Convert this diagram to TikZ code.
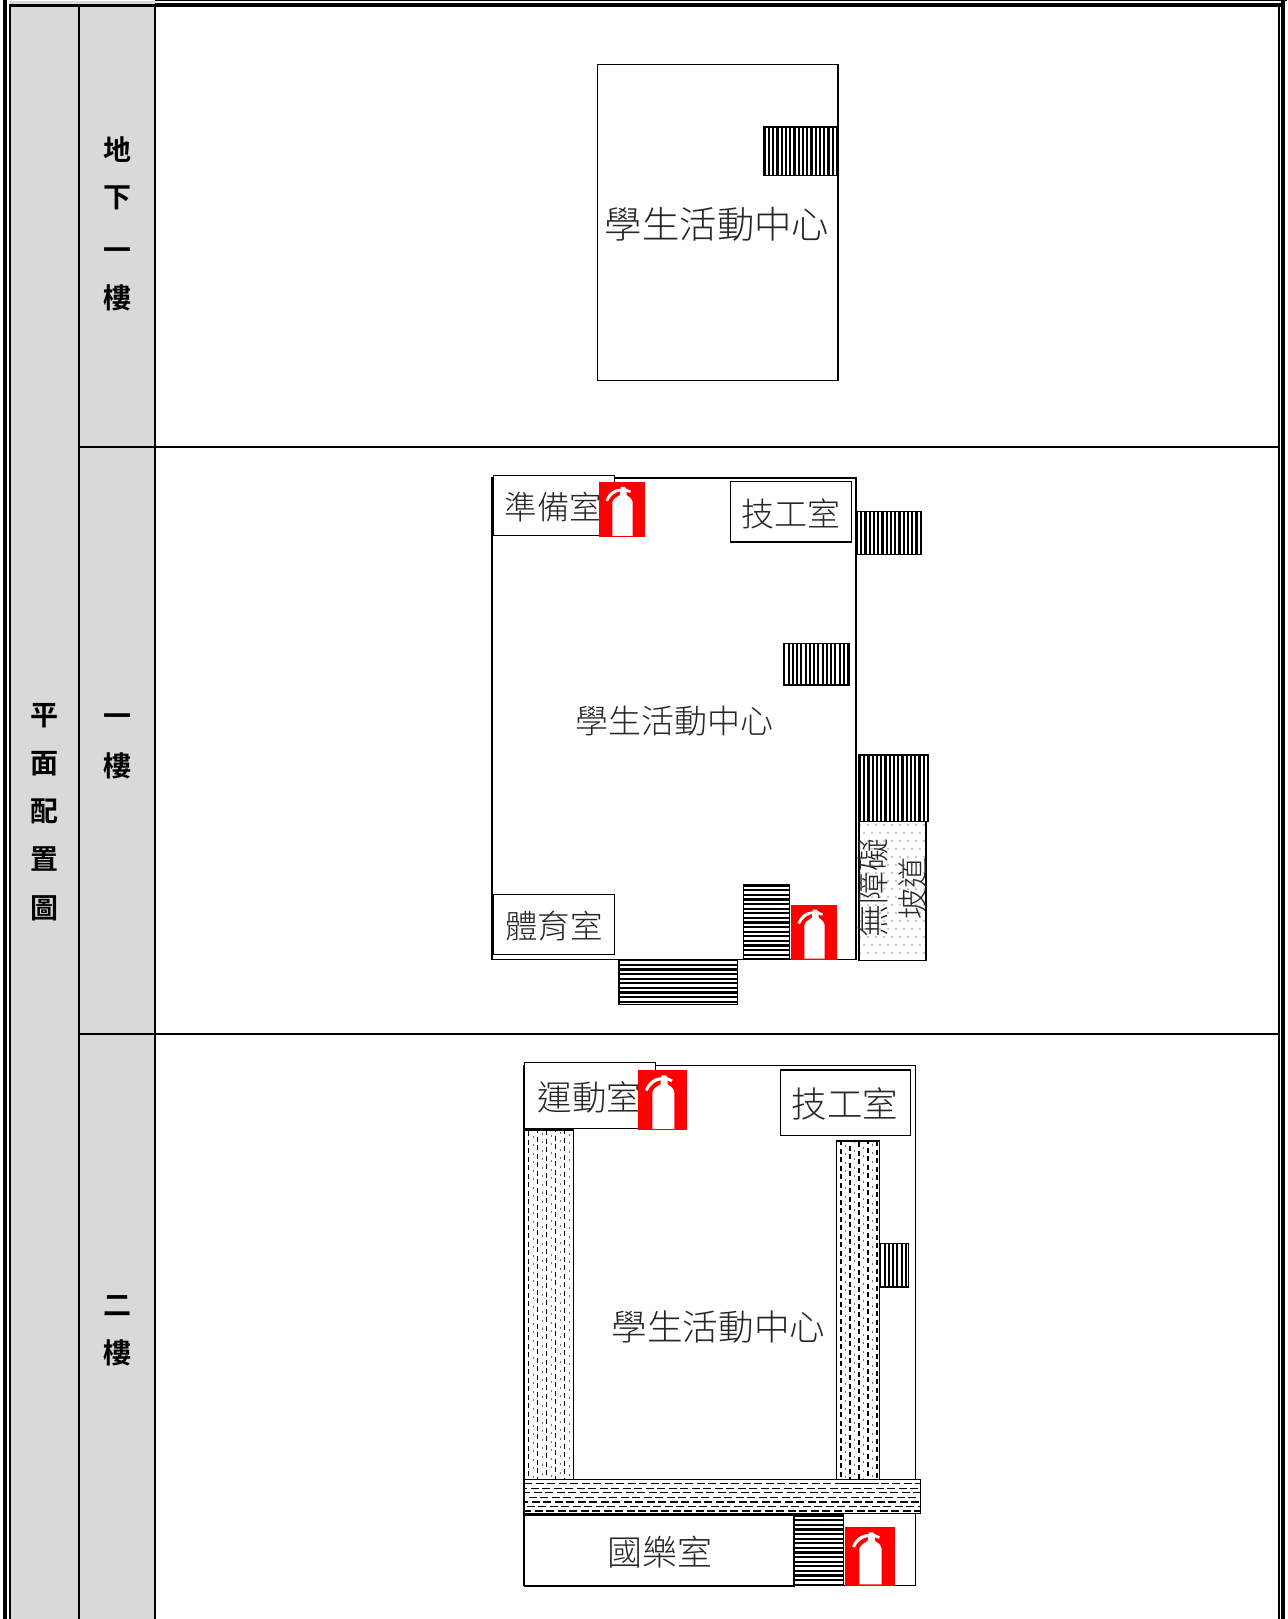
\documentclass[tikz,border=0pt]{standalone}
\usepackage{fontspec}
\newfontfamily\cjk{Noto Sans CJK TC}[UprightFont=* Light]
\newfontfamily\cjkb{Noto Sans CJK TC}[UprightFont=* Bold]
\definecolor{cellgray}{HTML}{D9D9D9}
\definecolor{firered}{HTML}{FF0000}
\tikzset{
  room/.style={draw=black,line width=1.2bp,fill=white},
  wall/.style={draw=black,line width=1.4bp},
  frameline/.style={draw=black,line cap=butt},
  head/.style={inner sep=0pt,font=\cjkb\fontsize{28bp}{28bp}\selectfont},
  lab/.style={inner sep=0pt,text=black!85},
  darkdash/.style={line width=1.1bp,dash pattern=on 5bp off 3.5bp},
  faintdash/.style={line width=0.9bp,black!55,dash pattern=on 2bp off 6.5bp},
}
\newcommand\lbl[5]{\node[lab,font=\cjk\fontsize{#4bp}{#4bp}\selectfont] (#1) at (#2,#3) {#5};}
\newcommand\vstairs[5]{%
  \fill[white] (#1,#2) rectangle (#3,#4);
  \begin{scope}\clip (#1,#2) rectangle (#3,#4);
    \foreach \q in {0,...,40}{\pgfmathsetmacro\xq{#1+1+\q*#5}\draw[line width=2.1bp] (\xq,#2) -- (\xq,#4);}
  \end{scope}
  \draw[line width=1.4bp] (#1,#2) rectangle (#3,#4);}
\newcommand\hstairs[5]{%
  \fill[white] (#1,#2) rectangle (#3,#4);
  \begin{scope}\clip (#1,#2) rectangle (#3,#4);
    \foreach \q in {0,...,40}{\pgfmathsetmacro\yq{#2+1+\q*#5}\draw[line width=2.3bp] (#1,\yq) -- (#3,\yq);}
  \end{scope}
  \draw[line width=1.4bp] (#1,#2) rectangle (#3,#4);}
\newcommand\firesign[4]{%
  \fill[firered] (#1,#2) rectangle (#3,#4);
  \pgfmathsetmacro\fw{#3-#1}\pgfmathsetmacro\fh{#4-#2}
  \begin{scope}[shift={(#1,#2)},x=\fw bp,y=-\fh bp]
    \fill[white] (0.287,0.976) -- (0.287,0.37) .. controls (0.30,0.30) and (0.40,0.27) .. (0.456,0.235)
      -- (0.456,0.13) -- (0.60,0.13) -- (0.60,0.235) .. controls (0.66,0.27) and (0.72,0.30) .. (0.735,0.37)
      -- (0.735,0.976) -- cycle;
    \fill[white] (0.14,0.33) .. controls (0.20,0.20) and (0.30,0.13) .. (0.46,0.12)
      -- (0.46,0.17) .. controls (0.36,0.18) and (0.26,0.23) .. (0.19,0.35) -- cycle;
    \fill[white] (0.47,0.09) -- (0.57,0.09) -- (0.58,0.115) -- (0.70,0.16) -- (0.68,0.20) -- (0.47,0.14) -- cycle;
  \end{scope}}
\begin{document}
\begin{tikzpicture}[x=1bp,y=-1bp]
\useasboundingbox (0,0) rectangle (1287,1619);
\clip (0,0) rectangle (1287,1619);
\fill[white] (0,0) rectangle (1287,1619);
% table
\fill[cellgray] (10,1) rectangle (155,1619);
\fill[white] (10,0) rectangle (155,1);
\fill[white] (7,0) rectangle (9,1619);
\draw[frameline,line width=3.4bp] (5,0) -- (5,1619);
\draw[frameline,line width=2bp] (10,4) -- (10,1619);
\draw[frameline,line width=2.4bp] (9,5.5) -- (155,5.5);
\draw[frameline,line width=3.7bp] (155,4.9) -- (1285,4.9);
\draw[frameline,line width=1bp] (155,0.5) -- (1287,0.5);
\draw[frameline,line width=4bp] (1283,0) -- (1283,1619);
\draw[frameline,line width=1.7bp] (1279,5) -- (1279,1619);
\draw[frameline,line width=1.7bp] (79.2,5) -- (79.2,1619);
\draw[frameline,line width=1.7bp] (155.2,5) -- (155.2,1619);
\draw[frameline,line width=1.7bp] (79,447) -- (1279,447);
\draw[frameline,line width=1.7bp] (79,1034) -- (1279,1034);
% headings
\node[head] (h1) at (44.5,716) {平};
\node[head] (h2) at (44.5,764) {面};
\node[head] (h3) at (44.5,811) {配};
\node[head] (h4) at (44.5,859) {置};
\node[head] (h5) at (44.5,908) {圖};
\node[head] (a1) at (117,150) {地};
\node[head] (a2) at (117,198) {下};
\node[head] (a3) at (117,254) {一};
\node[head] (a4) at (117,298) {樓};
\node[head] (b1) at (117,720) {一};
\node[head] (b2) at (117,766) {樓};
\node[head] (c1) at (117,1306) {二};
\node[head] (c2) at (117,1353) {樓};
% panel 1
\draw[wall] (597.5,64.7) rectangle (838,380.7);
\vstairs{763.7}{127}{838}{175.7}{4.25}
\lbl{p1}{717}{224}{37.4}{學生活動中心}
% panel 2
\draw[wall] (492,478) rectangle (856,959.3);
\draw[room] (493.5,475.7) rectangle (614.3,535.7);
\lbl{p2a}{553.5}{506.7}{32.5}{準備室}
\draw[room] (730.3,481.7) rectangle (851.3,542);
\lbl{p2b}{790.7}{514}{33}{技工室}
\draw[room] (493.3,894.7) rectangle (614.3,954.3);
\lbl{p2c}{554}{926}{32.5}{體育室}
\lbl{p2d}{674}{720.5}{33}{學生活動中心}
\vstairs{856}{511.7}{921.7}{554.7}{4.25}
\vstairs{783.3}{643.7}{849.3}{685}{4.25}
\vstairs{859}{755}{928.3}{821.7}{4.25}
\hstairs{743.3}{884.7}{789.3}{959.3}{4.6}
\hstairs{619}{959.3}{737.3}{1004.3}{4.6}
\draw[room] (859,821.7) rectangle (926,960.3);
\begin{scope}
  \clip (860,822.5) rectangle (925,959.5);
  \foreach \r in {0,...,17}{\foreach \s in {0,...,8}{
    \pgfmathsetmacro\dx{860+\s*8+mod(\r,2)*4}\pgfmathsetmacro\dy{825+\r*8}
    \fill[black!85] (\dx,\dy) circle (0.7bp);}}
\end{scope}
\node[lab,rotate=90,font=\cjk\fontsize{33bp}{33bp}\selectfont] (p2e) at (873,888) {無障礙};
\node[lab,rotate=90,font=\cjk\fontsize{31bp}{31bp}\selectfont] (p2f) at (913,888) {坡道};
\firesign{599.3}{482}{644.7}{537.3}
\firesign{791.3}{904.7}{836.7}{960}
% panel 3
\draw[wall] (523.3,1065.7) rectangle (915.3,1585.7);
\draw[room] (524.3,1062.7) rectangle (655.3,1128.3);
\lbl{p3a}{589.5}{1097}{34.5}{運動室}
\draw[room] (780.3,1070) rectangle (910.7,1135.7);
\lbl{p3b}{845}{1104}{35.5}{技工室}
\lbl{p3c}{718.5}{1327.5}{35.6}{學生活動中心}
\draw[room] (524.3,1130) rectangle (573.3,1479.3);
\foreach \cx/\ph in {528.5/0,537.5/3,546.5/1,555.5/4,564.5/2}{\draw[darkdash,dash phase=\ph bp] (\cx,1131) -- (\cx,1479);}
\foreach \cx/\ph in {533/4,542/7,551/5,560/8,569/6}{\draw[faintdash,dash phase=\ph bp] (\cx,1131) -- (\cx,1479);}
\draw[room,fill=white] (836.7,1141) rectangle (879.3,1483.3);
\foreach \cx/\ph in {841/2,850/5,859/0,868/3,877/1}{\draw[darkdash,dash phase=\ph bp] (\cx,1142) -- (\cx,1483);}
\foreach \cx/\ph in {845.5/6,854.5/1,863.5/4,872.5/7}{\draw[faintdash,dash phase=\ph bp] (\cx,1142) -- (\cx,1483);}
\vstairs{879.3}{1243.7}{908.3}{1287}{4.25}
\draw[room,fill=none] (836.7,1141) rectangle (879.3,1483.3);
\fill[white] (524.3,1479.7) rectangle (920.3,1513.3);
\foreach \cy/\ph in {1483.3/0,1488.3/5,1492.7/2,1497.3/7,1502/4,1506.7/9,1511/1}{\draw[line width=1.1bp,dash pattern=on 8bp off 3.5bp,dash phase=\ph bp] (524.3,\cy) -- (920.3,\cy);}
\draw[room,fill=none] (524.3,1479.7) rectangle (920.3,1513.3);
\draw[line width=1.5bp] (836.7,1483.3) -- (879.3,1483.3);
\draw[room,line width=1.6bp] (524.3,1514.7) rectangle (794,1585.7);
\lbl{p3d}{660}{1552}{35}{國樂室}
\hstairs{794}{1514.7}{843.7}{1585.7}{4.6}
\firesign{638.3}{1070}{687.3}{1130.3}
\firesign{845.3}{1527}{894.7}{1585.7}
\end{tikzpicture}
\end{document}
